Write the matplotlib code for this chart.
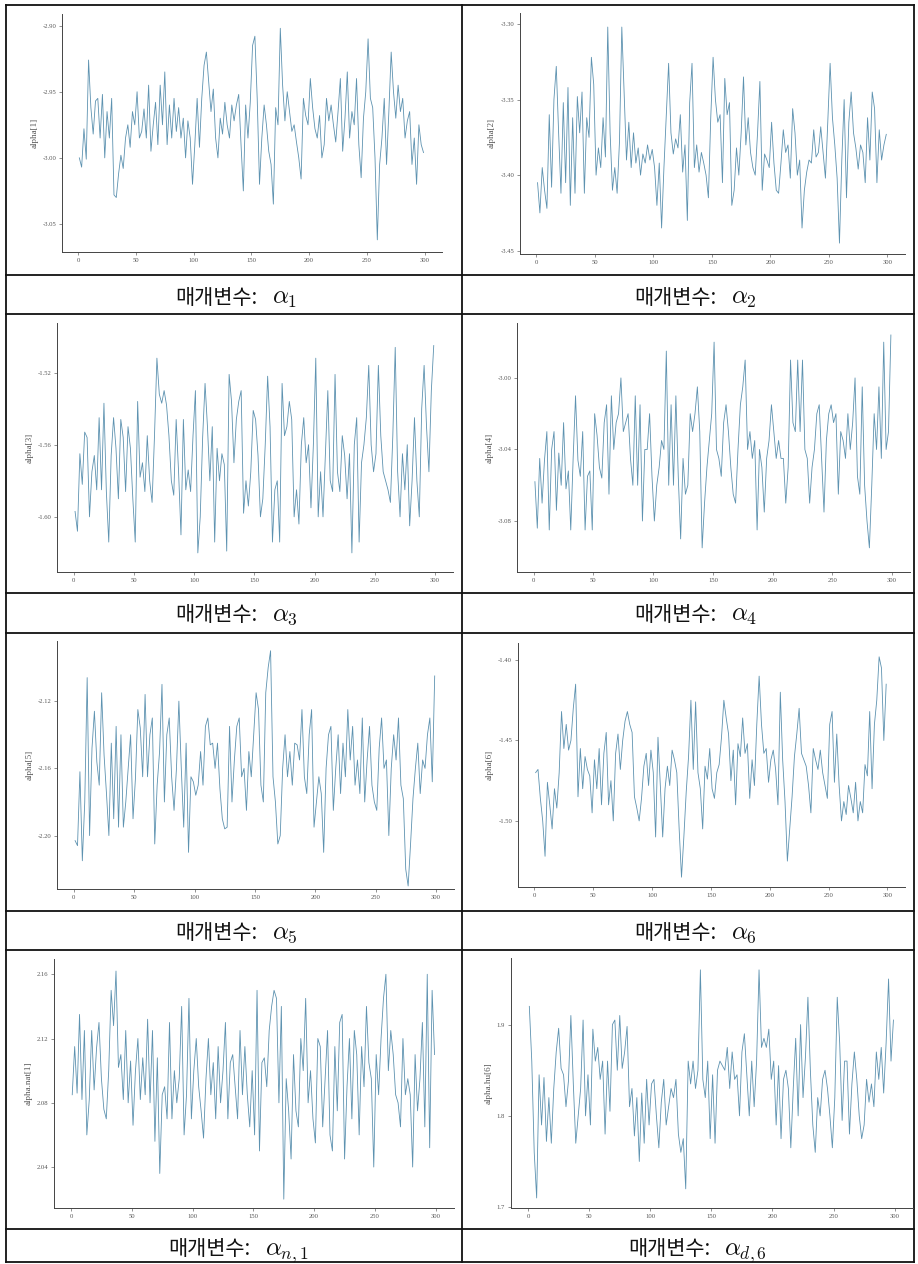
import matplotlib
matplotlib.use('Agg')
import matplotlib.pyplot as plt
from matplotlib.ticker import FormatStrFormatter

plt.rcParams['font.family'] = ['Liberation Serif', 'DejaVu Serif']
plt.rcParams['mathtext.fontset'] = 'cm'
plt.rcParams['axes.unicode_minus'] = False

# iterations shown (every second draw of the 300 kept)
iters = list(range(1, 300, 2))

alpha_1 = [
    -3.000, -3.007, -2.978, -3.001, -2.926, -2.962, -2.982, -2.957, -2.955, -2.985,
    -2.952, -3.000, -2.965, -2.985, -2.955, -3.028, -3.030, -3.012, -2.998, -3.008,
    -2.985, -2.975, -2.992, -2.965, -2.975, -2.950, -2.985, -2.980, -2.963, -2.985,
    -2.945, -2.995, -2.975, -2.958, -2.990, -2.945, -2.975, -2.935, -2.990, -2.960,
    -2.985, -2.955, -2.980, -2.962, -2.985, -2.970, -3.000, -2.972, -2.985, -3.020,
    -2.990, -2.955, -2.992, -2.955, -2.930, -2.920, -2.942, -2.965, -2.948, -2.985,
    -3.000, -2.970, -2.982, -2.958, -2.975, -2.985, -2.960, -2.972, -2.960, -2.952,
    -2.990, -3.025, -2.960, -2.985, -2.958, -2.915, -2.908, -2.955, -3.020, -2.985,
    -2.960, -2.975, -2.995, -3.005, -3.035, -2.962, -2.975, -2.902, -2.945, -2.972,
    -2.950, -2.965, -2.980, -2.975, -2.988, -3.000, -3.016, -2.955, -2.968, -2.975,
    -2.940, -2.962, -2.978, -2.985, -2.968, -3.000, -2.990, -2.955, -2.972, -2.960,
    -2.975, -2.988, -2.965, -2.940, -2.995, -2.970, -2.935, -2.985, -2.965, -2.975,
    -2.940, -2.990, -3.015, -2.970, -2.950, -2.910, -2.955, -2.962, -3.000, -3.062,
    -3.005, -2.985, -2.955, -3.005, -2.965, -2.920, -2.950, -2.970, -2.945, -2.965,
    -2.955, -2.985, -2.972, -2.965, -3.005, -2.985, -3.020, -2.975, -2.990, -2.996,
]

alpha_2 = [
    -3.405, -3.425, -3.395, -3.410, -3.422, -3.360, -3.408, -3.350, -3.328, -3.372,
    -3.412, -3.352, -3.405, -3.342, -3.420, -3.362, -3.412, -3.348, -3.372, -3.345,
    -3.412, -3.362, -3.375, -3.322, -3.340, -3.400, -3.382, -3.395, -3.362, -3.388,
    -3.302, -3.372, -3.410, -3.395, -3.412, -3.378, -3.302, -3.345, -3.390, -3.365,
    -3.395, -3.372, -3.392, -3.382, -3.400, -3.386, -3.392, -3.380, -3.390, -3.383,
    -3.395, -3.420, -3.392, -3.435, -3.395, -3.360, -3.326, -3.372, -3.386, -3.376,
    -3.382, -3.360, -3.398, -3.380, -3.430, -3.352, -3.326, -3.395, -3.380, -3.398,
    -3.385, -3.392, -3.400, -3.415, -3.362, -3.322, -3.350, -3.365, -3.360, -3.405,
    -3.336, -3.360, -3.352, -3.420, -3.410, -3.382, -3.400, -3.372, -3.335, -3.380,
    -3.362, -3.385, -3.395, -3.400, -3.372, -3.338, -3.410, -3.386, -3.390, -3.395,
    -3.365, -3.392, -3.410, -3.412, -3.392, -3.370, -3.385, -3.380, -3.402, -3.356,
    -3.372, -3.400, -3.390, -3.435, -3.410, -3.398, -3.390, -3.392, -3.370, -3.388,
    -3.385, -3.368, -3.385, -3.402, -3.365, -3.326, -3.362, -3.380, -3.402, -3.445,
    -3.390, -3.350, -3.415, -3.365, -3.345, -3.372, -3.382, -3.396, -3.380, -3.385,
    -3.405, -3.362, -3.390, -3.345, -3.356, -3.405, -3.370, -3.390, -3.380, -3.373,
]

alpha_3 = [
    -1.597, -1.608, -1.565, -1.582, -1.553, -1.556, -1.600, -1.575, -1.566, -1.585,
    -1.545, -1.585, -1.537, -1.586, -1.614, -1.566, -1.545, -1.562, -1.590, -1.546,
    -1.556, -1.586, -1.550, -1.562, -1.590, -1.614, -1.536, -1.578, -1.570, -1.586,
    -1.555, -1.580, -1.592, -1.555, -1.512, -1.532, -1.537, -1.530, -1.538, -1.555,
    -1.580, -1.588, -1.546, -1.575, -1.610, -1.546, -1.585, -1.574, -1.586, -1.555,
    -1.530, -1.620, -1.600, -1.556, -1.526, -1.550, -1.580, -1.550, -1.614, -1.562,
    -1.580, -1.565, -1.571, -1.619, -1.521, -1.536, -1.570, -1.546, -1.536, -1.530,
    -1.598, -1.580, -1.594, -1.575, -1.541, -1.546, -1.566, -1.600, -1.590, -1.560,
    -1.522, -1.550, -1.614, -1.585, -1.580, -1.614, -1.526, -1.555, -1.550, -1.536,
    -1.546, -1.600, -1.585, -1.604, -1.560, -1.545, -1.570, -1.560, -1.595, -1.560,
    -1.512, -1.600, -1.575, -1.600, -1.565, -1.530, -1.580, -1.586, -1.521, -1.575,
    -1.586, -1.555, -1.566, -1.590, -1.565, -1.620, -1.560, -1.545, -1.614, -1.570,
    -1.560, -1.545, -1.516, -1.560, -1.575, -1.565, -1.516, -1.555, -1.575, -1.580,
    -1.585, -1.592, -1.555, -1.506, -1.575, -1.600, -1.565, -1.585, -1.560, -1.605,
    -1.580, -1.545, -1.580, -1.600, -1.540, -1.516, -1.550, -1.575, -1.530, -1.505,
]

alpha_4 = [
    -3.058, -3.084, -3.045, -3.070, -3.046, -3.030, -3.085, -3.040, -3.030, -3.074,
    -3.042, -3.060, -3.025, -3.062, -3.052, -3.085, -3.045, -3.010, -3.046, -3.055,
    -3.030, -3.085, -3.055, -3.052, -3.085, -3.020, -3.032, -3.050, -3.056, -3.025,
    -3.015, -3.065, -3.010, -3.040, -3.025, -3.020, -3.000, -3.030, -3.025, -3.020,
    -3.045, -3.060, -3.010, -3.060, -3.015, -3.080, -3.040, -3.040, -3.020, -3.055,
    -3.080, -3.060, -3.050, -3.035, -3.040, -2.985, -3.060, -3.015, -3.060, -3.010,
    -3.055, -3.090, -3.045, -3.065, -3.060, -3.020, -3.030, -3.020, -3.005, -3.030,
    -3.095, -3.070, -3.050, -3.035, -3.020, -2.980, -3.040, -3.045, -3.055, -3.025,
    -3.015, -3.030, -3.050, -3.065, -3.070, -3.040, -3.015, -3.005, -2.990, -3.040,
    -3.030, -3.045, -3.035, -3.085, -3.040, -3.050, -3.075, -3.045, -3.035, -3.015,
    -3.030, -3.045, -3.035, -3.045, -3.045, -3.070, -3.050, -2.990, -3.025, -3.030,
    -2.990, -3.030, -2.990, -3.040, -3.045, -3.070, -3.050, -3.040, -3.020, -3.015,
    -3.045, -3.075, -3.035, -3.020, -3.015, -3.025, -3.020, -3.065, -3.030, -3.035,
    -3.045, -3.020, -3.040, -3.025, -3.000, -3.055, -3.065, -3.005, -3.060, -3.080,
    -3.095, -3.060, -3.020, -3.040, -3.005, -3.045, -2.980, -3.040, -3.030, -2.976,
]

alpha_5 = [
    -2.203, -2.206, -2.162, -2.215, -2.180, -2.106, -2.200, -2.148, -2.126, -2.156,
    -2.170, -2.115, -2.152, -2.175, -2.200, -2.145, -2.190, -2.135, -2.195, -2.140,
    -2.195, -2.180, -2.160, -2.140, -2.190, -2.166, -2.125, -2.136, -2.165, -2.116,
    -2.165, -2.140, -2.130, -2.205, -2.170, -2.150, -2.110, -2.180, -2.140, -2.130,
    -2.165, -2.185, -2.160, -2.120, -2.160, -2.195, -2.145, -2.210, -2.165, -2.168,
    -2.176, -2.170, -2.150, -2.170, -2.135, -2.130, -2.146, -2.145, -2.160, -2.145,
    -2.172, -2.190, -2.196, -2.195, -2.135, -2.180, -2.155, -2.135, -2.130, -2.165,
    -2.160, -2.185, -2.150, -2.165, -2.140, -2.115, -2.125, -2.170, -2.180, -2.115,
    -2.100, -2.090, -2.165, -2.180, -2.205, -2.200, -2.160, -2.140, -2.165, -2.150,
    -2.170, -2.145, -2.146, -2.155, -2.125, -2.165, -2.175, -2.140, -2.125, -2.195,
    -2.180, -2.165, -2.175, -2.210, -2.160, -2.140, -2.135, -2.185, -2.160, -2.140,
    -2.175, -2.145, -2.165, -2.125, -2.155, -2.135, -2.170, -2.155, -2.175, -2.130,
    -2.180, -2.155, -2.135, -2.170, -2.180, -2.185, -2.148, -2.130, -2.160, -2.155,
    -2.200, -2.160, -2.140, -2.155, -2.130, -2.170, -2.178, -2.220, -2.230, -2.205,
    -2.178, -2.160, -2.145, -2.175, -2.155, -2.160, -2.140, -2.130, -2.168, -2.105,
]

alpha_6 = [
    -1.470, -1.468, -1.486, -1.500, -1.522, -1.476, -1.490, -1.505, -1.480, -1.492,
    -1.470, -1.432, -1.455, -1.440, -1.456, -1.450, -1.430, -1.415, -1.485, -1.455,
    -1.480, -1.460, -1.468, -1.472, -1.495, -1.462, -1.480, -1.455, -1.490, -1.458,
    -1.445, -1.490, -1.475, -1.500, -1.458, -1.446, -1.468, -1.450, -1.438, -1.432,
    -1.440, -1.445, -1.485, -1.492, -1.500, -1.486, -1.466, -1.458, -1.478, -1.456,
    -1.470, -1.510, -1.448, -1.478, -1.510, -1.480, -1.466, -1.478, -1.456, -1.462,
    -1.470, -1.505, -1.535, -1.510, -1.482, -1.460, -1.425, -1.468, -1.426, -1.470,
    -1.480, -1.505, -1.466, -1.474, -1.455, -1.480, -1.486, -1.470, -1.465, -1.448,
    -1.425, -1.436, -1.446, -1.475, -1.456, -1.490, -1.452, -1.460, -1.436, -1.458,
    -1.452, -1.486, -1.462, -1.478, -1.440, -1.410, -1.440, -1.458, -1.455, -1.476,
    -1.462, -1.456, -1.468, -1.490, -1.420, -1.462, -1.488, -1.525, -1.505, -1.485,
    -1.460, -1.446, -1.430, -1.458, -1.462, -1.466, -1.478, -1.495, -1.455, -1.462,
    -1.468, -1.456, -1.470, -1.478, -1.486, -1.440, -1.432, -1.476, -1.446, -1.478,
    -1.500, -1.488, -1.496, -1.478, -1.486, -1.495, -1.476, -1.500, -1.488, -1.495,
    -1.465, -1.472, -1.432, -1.480, -1.440, -1.425, -1.398, -1.405, -1.450, -1.415,
]

alpha_nat_1 = [
    2.085, 2.115, 2.086, 2.135, 2.082, 2.125, 2.060, 2.082, 2.125, 2.088,
    2.114, 2.130, 2.095, 2.076, 2.070, 2.100, 2.150, 2.128, 2.162, 2.102,
    2.110, 2.082, 2.125, 2.080, 2.106, 2.066, 2.100, 2.120, 2.082, 2.108,
    2.085, 2.132, 2.080, 2.125, 2.056, 2.108, 2.036, 2.085, 2.090, 2.070,
    2.130, 2.070, 2.100, 2.080, 2.095, 2.140, 2.060, 2.085, 2.145, 2.070,
    2.100, 2.120, 2.090, 2.075, 2.058, 2.095, 2.120, 2.085, 2.105, 2.070,
    2.115, 2.080, 2.100, 2.130, 2.070, 2.105, 2.110, 2.090, 2.070, 2.125,
    2.085, 2.115, 2.085, 2.065, 2.100, 2.060, 2.150, 2.050, 2.105, 2.108,
    2.090, 2.125, 2.140, 2.150, 2.145, 2.080, 2.140, 2.020, 2.095, 2.075,
    2.045, 2.110, 2.075, 2.065, 2.120, 2.100, 2.145, 2.080, 2.100, 2.070,
    2.055, 2.120, 2.115, 2.065, 2.095, 2.125, 2.060, 2.050, 2.115, 2.075,
    2.130, 2.135, 2.045, 2.090, 2.120, 2.070, 2.125, 2.110, 2.060, 2.115,
    2.090, 2.140, 2.105, 2.095, 2.040, 2.110, 2.085, 2.120, 2.145, 2.160,
    2.100, 2.125, 2.110, 2.085, 2.080, 2.065, 2.120, 2.085, 2.095, 2.085,
    2.040, 2.110, 2.075, 2.095, 2.130, 2.065, 2.160, 2.052, 2.150, 2.110,
]

alpha_hu_6 = [
    1.920, 1.860, 1.760, 1.710, 1.845, 1.790, 1.842, 1.772, 1.820, 1.770,
    1.830, 1.870, 1.896, 1.852, 1.845, 1.810, 1.838, 1.910, 1.835, 1.770,
    1.800, 1.830, 1.905, 1.800, 1.845, 1.790, 1.895, 1.860, 1.875, 1.840,
    1.860, 1.780, 1.860, 1.805, 1.900, 1.905, 1.850, 1.910, 1.852, 1.870,
    1.898, 1.810, 1.830, 1.778, 1.820, 1.750, 1.825, 1.770, 1.840, 1.790,
    1.835, 1.840, 1.800, 1.765, 1.815, 1.840, 1.790, 1.810, 1.830, 1.820,
    1.840, 1.780, 1.760, 1.775, 1.720, 1.860, 1.835, 1.860, 1.830, 1.850,
    1.960, 1.840, 1.820, 1.860, 1.775, 1.845, 1.770, 1.850, 1.860, 1.855,
    1.850, 1.875, 1.830, 1.870, 1.840, 1.845, 1.800, 1.870, 1.890, 1.845,
    1.800, 1.860, 1.810, 1.860, 1.960, 1.875, 1.885, 1.875, 1.895, 1.840,
    1.860, 1.790, 1.855, 1.775, 1.840, 1.850, 1.830, 1.765, 1.830, 1.885,
    1.800, 1.900, 1.820, 1.865, 1.930, 1.850, 1.790, 1.760, 1.820, 1.800,
    1.840, 1.850, 1.830, 1.800, 1.765, 1.820, 1.930, 1.880, 1.795, 1.860,
    1.860, 1.780, 1.835, 1.870, 1.840, 1.800, 1.775, 1.790, 1.840, 1.815,
    1.835, 1.810, 1.870, 1.840, 1.875, 1.825, 1.880, 1.950, 1.860, 1.905,
]

series = [alpha_1, alpha_2, alpha_3, alpha_4, alpha_5, alpha_6, alpha_nat_1, alpha_hu_6]
ylabels = ['alpha[1]', 'alpha[2]', 'alpha[3]', 'alpha[4]',
           'alpha[5]', 'alpha[6]', 'alpha.nat[1]', 'alpha.hu[6]']
cap_label = '매개변수:'
cap_math = [r'$\alpha_1$', r'$\alpha_2$', r'$\alpha_3$', r'$\alpha_4$',
            r'$\alpha_5$', r'$\alpha_6$', r'$\alpha_{n,1}$', r'$\alpha_{d,6}$']
yticks = [[-3.05, -3.00, -2.95, -2.90], [-3.45, -3.40, -3.35, -3.30],
          [-1.60, -1.56, -1.52], [-3.08, -3.04, -3.00],
          [-2.20, -2.16, -2.12], [-1.50, -1.45, -1.40],
          [2.04, 2.08, 2.12, 2.16], [1.7, 1.8, 1.9]]
yfmt = ['%.2f'] * 7 + ['%.1f']
ylims = [(-3.0712, -2.8912), (-3.4522, -3.2927), (-1.6306, -1.4925), (-3.1085, -2.9693),
         (-2.2318, -2.0842), (-1.5411, -1.3894), (2.0145, 2.1695), (1.699, 1.973)]

# axes boxes in pixels: left, top, right, bottom
W, H = 918, 1264
boxes = [(62, 14, 442, 252), (520, 13, 905, 254),
         (57, 323, 453, 572), (517, 323, 910, 572),
         (57, 641, 454, 889), (518, 643, 905, 887),
         (54, 959, 454, 1208), (511, 958, 913, 1208)]

fig = plt.figure(figsize=(W / 100, H / 100), dpi=100)

# table grid and captions, drawn in pixel coordinates
bg = fig.add_axes([0, 0, 1, 1])
bg.set_xlim(0, W)
bg.set_ylim(H, 0)
bg.axis('off')
x_left, x_mid, x_right = 5.5, 462, 914
row_lines = [4.5, 275, 313.5, 593, 633, 911, 950, 1229, 1262]
for y in row_lines:
    bg.plot([x_left, x_right], [y, y], color='#111111', lw=1.3)
for x in [x_left, x_mid, x_right]:
    bg.plot([x, x], [row_lines[0], row_lines[-1]], color='#111111', lw=1.3)

cap_rows = [275, 593, 911, 1229]
cap_base = [29, 28, 28, 26]
for i, m in enumerate(cap_math):
    cx = (x_left + x_mid) / 2 if i % 2 == 0 else (x_mid + x_right) / 2
    shift = 24 if i % 2 == 0 else 29
    if i >= 6:
        shift -= 7
    cy = cap_rows[i // 2] + cap_base[i // 2]
    bg.text(cx + shift, cy, cap_label, ha='right', va='baseline', fontsize=15,
            family=['Noto Sans CJK KR', 'DejaVu Sans'], color='#111111')
    bg.text(cx + shift + 14, cy, m, ha='left', va='baseline', fontsize=18,
            color='#111111')

for i, vals in enumerate(series):
    l, t, r, b = boxes[i]
    ax = fig.add_axes([l / W, 1 - b / H, (r - l) / W, (b - t) / H])
    ax.plot(iters, vals, color='#5d92b0', lw=0.6)
    ax.set_xlim(-14, 315)
    ax.set_ylim(*ylims[i])
    ax.set_xticks([0, 50, 100, 150, 200, 250, 300])
    ax.set_yticks(yticks[i])
    ax.yaxis.set_major_formatter(FormatStrFormatter(yfmt[i]))
    ax.spines['top'].set_visible(False)
    ax.spines['right'].set_visible(False)
    for s in ['left', 'bottom']:
        ax.spines[s].set_color('#444444')
        ax.spines[s].set_linewidth(0.7)
    ax.tick_params(length=2.2, width=0.5, color='#666666', labelsize=4.8,
                   labelcolor='#555555', pad=2)
    ax.set_ylabel(ylabels[i], fontsize=6.5, color='#555555', labelpad=3)

fig.savefig('out.png', dpi=100)
